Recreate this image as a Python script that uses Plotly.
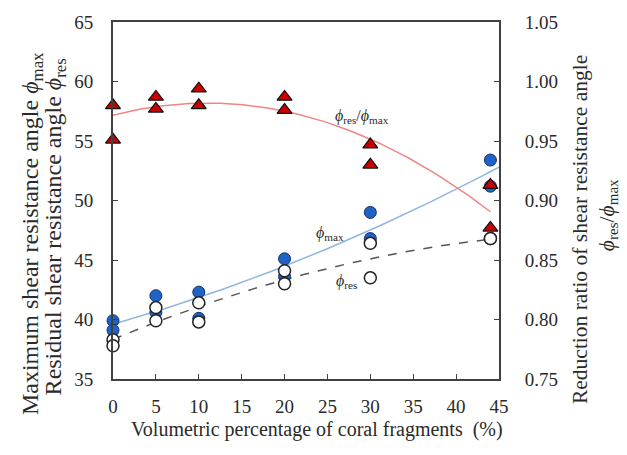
import numpy as np
import plotly.graph_objects as go

# ---- data ----
x_pts = [0, 0, 5, 5, 10, 10, 20, 20, 30, 30, 44, 44]
phi_max = [39.9, 39.1, 42.0, 40.6, 42.3, 40.1, 45.1, 43.6, 49.0, 46.8, 53.4, 51.2]
phi_res = [38.3, 37.8, 41.0, 39.9, 41.4, 39.8, 44.1, 43.0, 46.4, 43.5, 46.8, 46.8]
ratio = [0.980, 0.951, 0.987, 0.977, 0.994, 0.980, 0.987, 0.976, 0.947, 0.930, 0.913, 0.877]

x_ticks = [0, 5, 10, 15, 20, 25, 30, 35, 40, 45]
y_ticks = [35, 40, 45, 50, 55, 60, 65]
y2_ticks = [0.75, 0.80, 0.85, 0.90, 0.95, 1.00, 1.05]
y2_labels = ["0.75", "0.80", "0.85", "0.90", "0.95", "1.00", "1.05"]

# trend lines fitted to the data (2nd order polynomials)
xs = np.array(x_pts, dtype=float)
fit_max = np.polyfit(xs, phi_max, 2)
fit_res = np.polyfit(xs, phi_res, 2)
fit_rat = np.polyfit(xs, ratio, 2)
xl_max = np.linspace(0, 45, 100)
xl = np.linspace(0, 44, 100)

FONT = "'Liberation Serif', 'Times New Roman', 'DejaVu Serif', serif"
TXT = "#2a2a2a"

fig = go.Figure()
fig.add_trace(go.Scatter(x=xl_max, y=np.polyval(fit_max, xl_max), mode="lines",
                         line=dict(color="#8db6e0", width=1.5), showlegend=False))
fig.add_trace(go.Scatter(x=xl, y=np.polyval(fit_res, xl), mode="lines",
                         line=dict(color="#555555", width=1.5, dash="dash"), showlegend=False))
fig.add_trace(go.Scatter(x=x_pts, y=phi_max, mode="markers", cliponaxis=False,
                         marker=dict(symbol="circle", size=12, color="#1f63c6",
                                     line=dict(color="#1a2f66", width=1)), showlegend=False))
fig.add_trace(go.Scatter(x=x_pts, y=phi_res, mode="markers", cliponaxis=False,
                         marker=dict(symbol="circle", size=12, color="white",
                                     line=dict(color="#222222", width=1.5)), showlegend=False))
fig.add_trace(go.Scatter(x=xl, y=np.polyval(fit_rat, xl), mode="lines", yaxis="y2",
                         line=dict(color="#f08585", width=1.5), showlegend=False))
fig.add_trace(go.Scatter(x=x_pts, y=ratio, mode="markers", yaxis="y2", cliponaxis=False,
                         marker=dict(symbol="triangle-up", size=13, color="#cc0000",
                                     line=dict(color="#111111", width=1.2)), showlegend=False))

axis_common = dict(showline=True, linecolor="#404040", linewidth=1.8, ticks="inside",
                   ticklen=5, tickcolor="#404040", showgrid=False, zeroline=False,
                   tickfont=dict(family=FONT, size=19, color=TXT))

fig.update_layout(
    width=627, height=455,
    margin=dict(l=113, r=128, t=17, b=76),
    paper_bgcolor="white", plot_bgcolor="white",
    font=dict(family=FONT, color=TXT),
    xaxis=dict(range=[0, 45], tickvals=x_ticks, mirror=True, ticklabelstandoff=9, **axis_common),
    yaxis=dict(range=[35, 65], tickvals=y_ticks, ticklabelstandoff=14, **axis_common),
    yaxis2=dict(range=[0.75, 1.05], tickvals=y2_ticks, ticktext=y2_labels, overlaying="y",
                side="right", ticklabelstandoff=20, **axis_common),
)

ann_font = dict(family=FONT, size=16, color=TXT)
fig.add_annotation(x=29, y=57.1, xref="x", yref="y", showarrow=False, font=ann_font,
                   text="<i>ϕ</i><sub>res</sub>/<i>ϕ</i><sub>max</sub>")
fig.add_annotation(x=25.3, y=47.2, xref="x", yref="y", showarrow=False, font=ann_font,
                   text="<i>ϕ</i><sub>max</sub>")
fig.add_annotation(x=27.2, y=43.2, xref="x", yref="y", showarrow=False, font=ann_font,
                   text="<i>ϕ</i><sub>res</sub>")

fig.add_annotation(x=-0.2098, y=0.406, xref="paper", yref="paper", showarrow=False,
                   textangle=-90, font=dict(family=FONT, size=24, color=TXT),
                   xanchor="center", yanchor="middle",
                   text="Maximum shear resistance angle <i>ϕ</i><sub>max</sub>")
fig.add_annotation(x=-0.150, y=0.425, xref="paper", yref="paper", showarrow=False,
                   textangle=-90, font=dict(family=FONT, size=24, color=TXT),
                   xanchor="center", yanchor="middle",
                   text="Residual shear resistance angle <i>ϕ</i><sub>res</sub>")
fig.add_annotation(x=1.2098, y=0.42, xref="paper", yref="paper", showarrow=False,
                   textangle=-90, font=dict(family=FONT, size=21.5, color=TXT),
                   xanchor="center", yanchor="middle",
                   text="Reduction ratio of shear resistance angle")
fig.add_annotation(x=1.282, y=0.4586, xref="paper", yref="paper", showarrow=False,
                   textangle=-90, font=dict(family=FONT, size=21.5, color=TXT),
                   xanchor="center", yanchor="middle",
                   text="<i>ϕ</i><sub>res</sub>/<i>ϕ</i><sub>max</sub>")
fig.add_annotation(x=0.528, y=-0.141, xref="paper", yref="paper", showarrow=False,
                   font=dict(family=FONT, size=20, color=TXT), xanchor="center",
                   yanchor="middle", text="Volumetric percentage of coral fragments  (%)")

fig.write_html("out.html")
